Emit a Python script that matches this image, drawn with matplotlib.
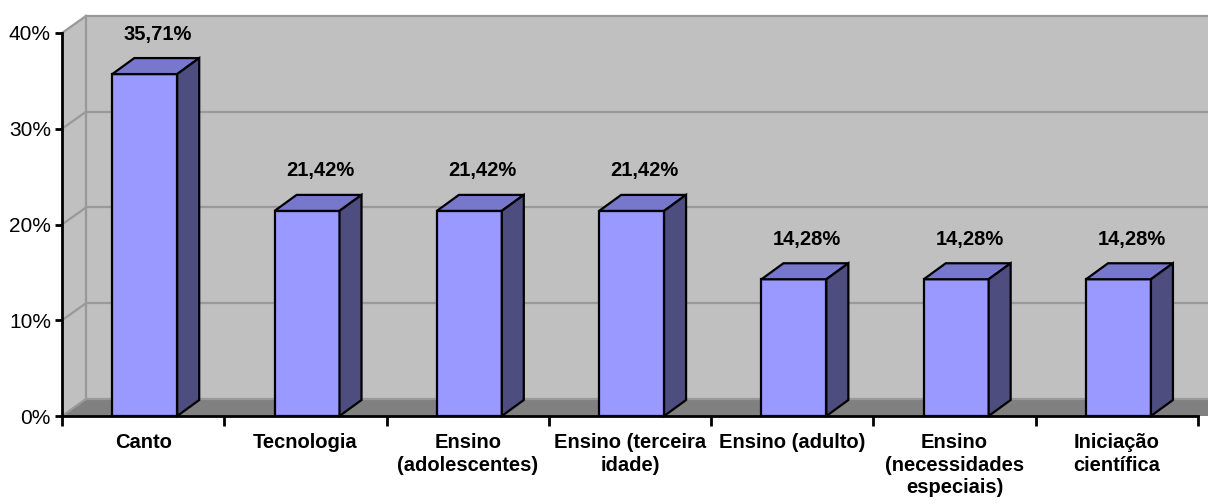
import numpy as np
import matplotlib
matplotlib.use("Agg")
import matplotlib.pyplot as plt
from matplotlib.patches import Polygon

plt.rcParams['font.family'] = ['Liberation Sans', 'DejaVu Sans']

categories = ['Canto', 'Tecnologia', 'Ensino\n(adolescentes)', 'Ensino (terceira\nidade)',
              'Ensino (adulto)', 'Ensino\n(necessidades\nespeciais)', 'Iniciação\ncientífica']
values = [0.3571, 0.2142, 0.2142, 0.2142, 0.1428, 0.1428, 0.1428]
value_labels = ['35,71%', '21,42%', '21,42%', '21,42%', '14,28%', '14,28%', '14,28%']
y_ticks = [0.0, 0.1, 0.2, 0.3, 0.4]
y_tick_labels = ['0%', '10%', '20%', '30%', '40%']

W, H = 1208, 504
fig = plt.figure(figsize=(W / 100, H / 100), dpi=100)
ax = fig.add_axes([62 / W, 88 / H, 1136 / W, 383 / H])
n = len(categories)
ymax = 0.4
ax.set_xlim(0, n)
ax.set_ylim(0, ymax)

# pixel -> data conversion for the 3d depth offsets
px_x = n / 1136
px_y = ymax / 383
wdx, wdy = 24 * px_x, 17 * px_y      # wall depth
bdx, bdy = 22 * px_x, 16 * px_y      # bar depth

wall_c = '#c0c0c0'
grid_c = '#999999'

# back wall (runs off the right edge like the original)
ax.add_patch(Polygon([(wdx, wdy), (n + 2 * wdx, wdy), (n + 2 * wdx, ymax + wdy), (wdx, ymax + wdy)],
                     closed=True, fc=wall_c, ec='none', clip_on=False, zorder=0))
# side wall
ax.add_patch(Polygon([(0, 0), (0, ymax), (wdx, ymax + wdy), (wdx, wdy)],
                     closed=True, fc=wall_c, ec='none', clip_on=False, zorder=0))
# floor
ax.add_patch(Polygon([(0, 0), (n + 2 * wdx, 0), (n + 2 * wdx, wdy), (wdx, wdy)],
                     closed=True, fc='#808080', ec='none', clip_on=False, zorder=0.5))

for yt in y_ticks:
    ax.plot([0, wdx], [yt, yt + wdy], color=grid_c, lw=1.6, clip_on=False, zorder=1)
    ax.plot([wdx, n + 2 * wdx], [yt + wdy, yt + wdy], color=grid_c, lw=1.6, clip_on=False, zorder=1)
ax.plot([wdx, wdx], [wdy, ymax + wdy], color=grid_c, lw=1.6, clip_on=False, zorder=1)

# bars
for i, v in enumerate(values):
    x0, x1 = i + 0.31, i + 0.71
    front = Polygon([(x0, 0), (x1, 0), (x1, v), (x0, v)], closed=True,
                    fc='#9999ff', ec='black', lw=1.6, zorder=3, joinstyle='miter')
    top = Polygon([(x0, v), (x1, v), (x1 + bdx, v + bdy), (x0 + bdx, v + bdy)], closed=True,
                  fc='#7777cc', ec='black', lw=1.6, zorder=3, joinstyle='miter')
    side = Polygon([(x1, 0), (x1 + bdx, bdy), (x1 + bdx, v + bdy), (x1, v)], closed=True,
                   fc='#4d4d80', ec='black', lw=1.6, zorder=3, joinstyle='miter')
    for p in (front, top, side):
        p.set_clip_on(False)
        ax.add_patch(p)
    ax.text((x0 + x1) / 2 + 0.6 * bdx, v + bdy + 24 * px_y, value_labels[i],
            ha='center', va='center', fontsize=14.5, fontweight='bold', zorder=5)

# axes
for s in ['top', 'right']:
    ax.spines[s].set_visible(False)
for s in ['left', 'bottom']:
    ax.spines[s].set_linewidth(2)
    ax.spines[s].set_zorder(4)
ax.set_yticks(y_ticks)
ax.set_yticklabels(y_tick_labels, fontsize=15)
ax.tick_params(axis='y', length=5, width=2, pad=3)
ax.set_xticks(np.arange(n + 1))
ax.set_xticklabels([])
ax.tick_params(axis='x', length=7, width=2)
ax.set_xticks(np.arange(n) + 0.5, minor=True)
ax.set_xticklabels(categories, minor=True, fontsize=14.5, fontweight='bold', linespacing=1.22)
ax.tick_params(axis='x', which='minor', length=0, pad=12.5)
ax.patch.set_visible(False)

fig.savefig('out.png', dpi=100)
